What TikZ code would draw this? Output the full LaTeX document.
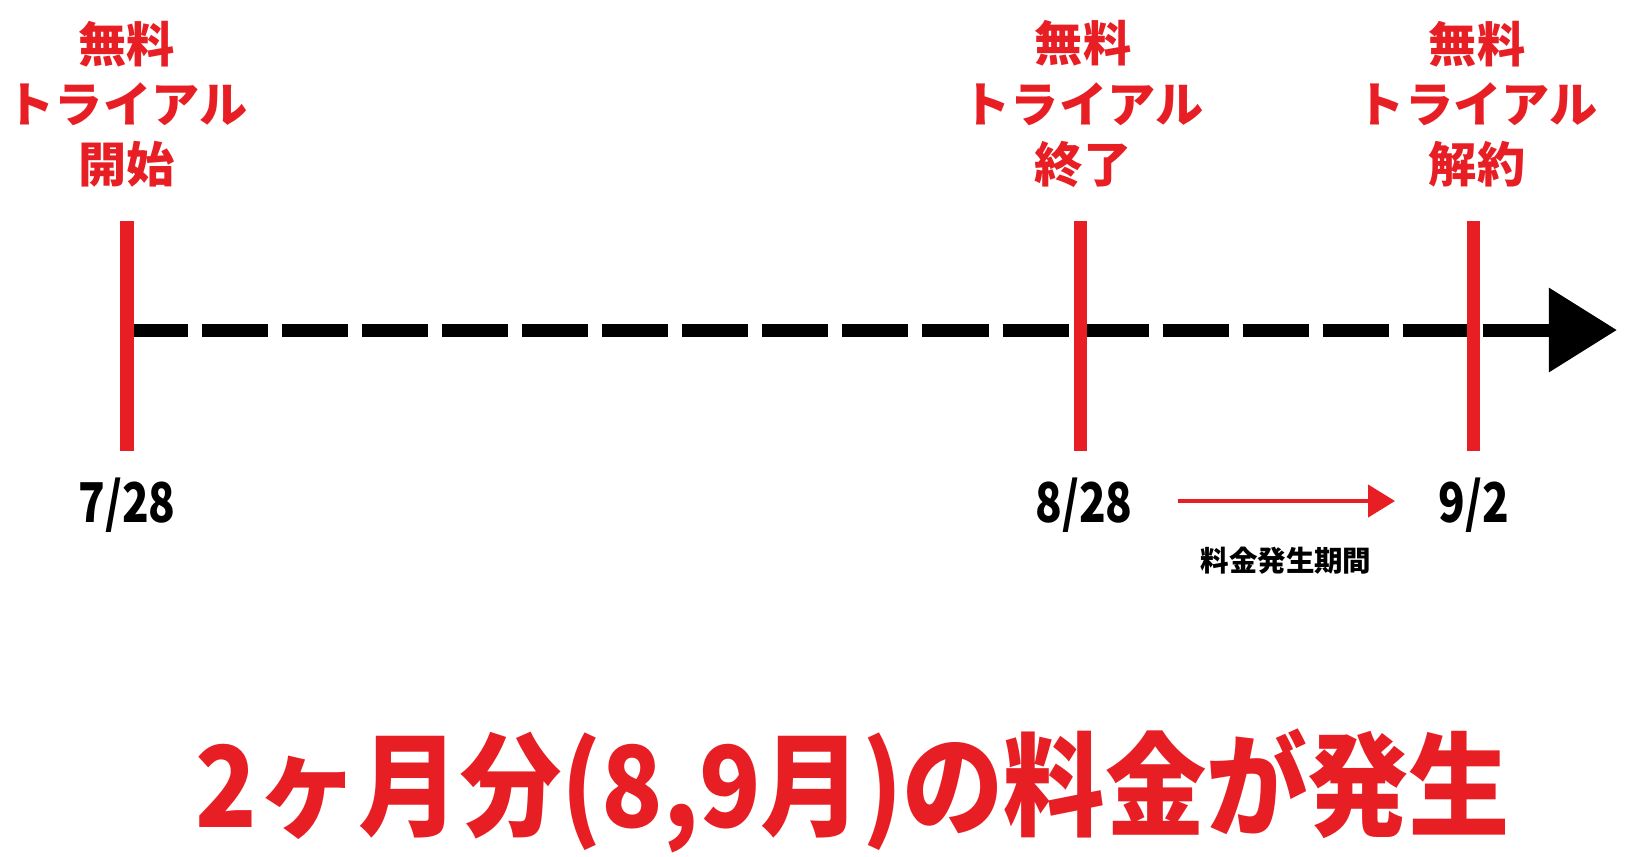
\documentclass[tikz,border=0pt]{standalone}
\usepackage{fontspec}
\usepackage{tikz}
\usetikzlibrary{arrows.meta}
\newfontfamily\jpfont{Noto Sans CJK JP Black}
\newfontfamily\datefont{Noto Sans CJK JP Black}[FakeStretch=0.8]
\newfontfamily\totalfont{Noto Sans CJK JP Black}[FakeStretch=0.9]
\definecolor{trialred}{RGB}{232,30,37}
\tikzset{
  redlabel/.style={text=trialred, align=center, font=\jpfont\fontsize{13.7}{17.1}\selectfont},
  datelabel/.style={font=\datefont\fontsize{15.6}{18}\selectfont},
  marker/.style={trialred, line width=0.13cm}
}

\begin{document}
\begin{tikzpicture}[x=0.01cm,y=-0.01cm]
\useasboundingbox[fill=white] (0,0) rectangle (1640,856);
% timeline
\coordinate (tstart) at (122,330);
\coordinate (tend) at (1617,330);
\draw[line width=0.13cm, dash pattern=on 0.66cm off 0.14cm,
      -{Triangle[length=0.68cm,width=0.81cm]}] (tstart) -- (tend);
% red marks
\foreach \x/\n in {127/1,1080/2,1473/3}{
   \coordinate (top\n) at (\x,221);
   \coordinate (bot\n) at (\x,451);
   \draw[marker] (top\n) -- (bot\n);
}
\node[redlabel] (lab1) at (127,104) {無料\\トライアル\\開始};
\node[redlabel] (lab2) at (1083,104) {無料\\トライアル\\終了};
\node[redlabel] (lab3) at (1477,104) {無料\\トライアル\\解約};
\node[datelabel] (d1) at (127,505) {7/28};
\node[datelabel] (d2) at (1084,505) {8/28};
\node[datelabel] (d3) at (1474,505) {9/2};
% charged period
\coordinate (pa) at (1178,501);
\coordinate (pb) at (1395,501);
\draw[trialred, line width=0.045cm, -{Triangle[length=0.27cm,width=0.32cm]}] (pa) -- (pb);
\node[font=\jpfont\fontsize{8.1}{10}\selectfont] (period) at (1286,561) {料金発生期間};
\node[text=trialred, font=\totalfont\fontsize{32}{38}\selectfont] (total) at (853,791) {2ヶ月分(8,9月)の料金が発生};
\end{tikzpicture}
\end{document}
